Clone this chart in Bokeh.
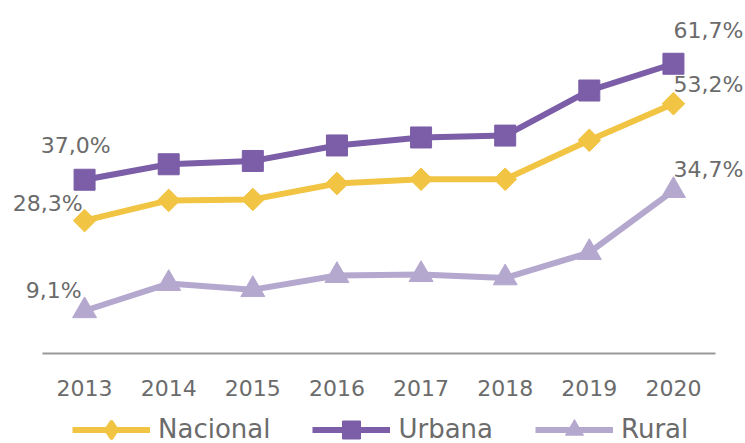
import math
from bokeh.plotting import figure
from bokeh.models import (ColumnDataSource, Legend, LegendItem, Range1d,
                          LinearAxis, FixedTicker)
from bokeh.core.properties import value
from bokeh.embed import file_html
from bokeh.resources import INLINE

# ---- data ----
years = ["2013", "2014", "2015", "2016", "2017", "2018", "2019", "2020"]
nacional = [28.3, 32.6, 32.8, 36.2, 37.1, 37.1, 45.4, 53.2]
urbana = [37.0, 40.3, 41.0, 44.3, 46.0, 46.4, 56.0, 61.7]
rural = [9.1, 14.9, 13.6, 16.6, 16.8, 16.1, 21.5, 34.7]
series_names = ["Nacional", "Urbana", "Rural"]

# ---- layout / styles ----
W = 745
FH = 460                    # frame height (bottom rows fall below the window)
BASE = 353                  # pixel row of the baseline
AXIS_LEFT, AXIS_RIGHT = 42, 715
unit = (AXIS_RIGHT - AXIS_LEFT) / len(years)
first_center = AXIS_LEFT + unit / 2
px_per_pct = 4.696
LEGEND_ROW = 429

FONT = "DejaVu Sans"
TXT = "#6b6b6b"
C_NAC = "#F2C443"
C_URB = "#7B5EA7"
C_RUR = "#B5A8CF"

idx = list(range(len(years)))

p = figure(frame_width=W, frame_height=FH,
           x_range=Range1d(-first_center / unit, (W - first_center) / unit),
           y_range=Range1d(-(FH - BASE) / px_per_pct, BASE / px_per_pct),
           output_backend="svg", toolbar_location=None,
           x_axis_type=None, y_axis_type=None,
           min_border_left=0, min_border_right=0, min_border_top=0, min_border_bottom=0)
p.outline_line_color = None
p.background_fill_color = "white"
p.border_fill_color = "white"
p.xgrid.visible = False
p.ygrid.visible = False

ax = LinearAxis(ticker=FixedTicker(ticks=idx),
                major_label_overrides={i: y for i, y in zip(idx, years)},
                bounds=(-0.5, len(years) - 0.5), fixed_location=0)
ax.axis_line_color = "#9a9a9a"
ax.axis_line_width = 2
ax.major_tick_line_color = None
ax.minor_tick_line_color = None
ax.major_label_text_font = FONT
ax.major_label_text_font_size = "22px"
ax.major_label_text_color = TXT
ax.major_label_standoff = 20
p.add_layout(ax, "below")

src = ColumnDataSource(dict(x=idx, nac=nacional, urb=urbana, rur=rural))

l_nac = p.line("x", "nac", source=src, line_color=C_NAC, line_width=6)
# diamond key (used by the legend; sits under the rotated squares)
k_nac = p.scatter("x", "nac", source=src, marker="diamond", size=18,
                  fill_color=C_NAC, line_color=C_NAC, line_width=3)
m_nac = p.scatter("x", "nac", source=src, marker="square", size=16, angle=math.pi / 4,
                  fill_color=C_NAC, line_color=C_NAC)
l_urb = p.line("x", "urb", source=src, line_color=C_URB, line_width=6)
m_urb = p.scatter("x", "urb", source=src, marker="square", size=21,
                  fill_color=C_URB, line_color=C_URB)
l_rur = p.line("x", "rur", source=src, line_color=C_RUR, line_width=6)
m_rur = p.scatter("x", "rur", source=src, marker="triangle", size=24,
                  fill_color=C_RUR, line_color=C_RUR)

def fmt(v):
    return f"{v:.1f}".replace(".", ",") + "%"

first = ColumnDataSource(dict(
    x=[idx[0]] * 3,
    y=[urbana[0], nacional[0], rural[0]],
    t=[fmt(urbana[0]), fmt(nacional[0]), fmt(rural[0])],
    xo=[26, -2, -3], yo=[-34, -17, -20]))
last = ColumnDataSource(dict(
    x=[idx[-1]] * 3,
    y=[urbana[-1], nacional[-1], rural[-1]],
    t=[fmt(urbana[-1]), fmt(nacional[-1]), fmt(rural[-1])],
    xo=[0, 0, 0], yo=[-33, -19, -21]))

p.text("x", "y", text="t", source=first, x_offset="xo", y_offset="yo",
       text_align="right", text_baseline="middle", text_font=value(FONT),
       text_font_size="22px", text_color=TXT)
p.text("x", "y", text="t", source=last, x_offset="xo", y_offset="yo",
       text_align="left", text_baseline="middle", text_font=value(FONT),
       text_font_size="22px", text_color=TXT)

legend = Legend(items=[
    LegendItem(label=series_names[0], renderers=[l_nac, k_nac]),
    LegendItem(label=series_names[1], renderers=[l_urb, m_urb]),
    LegendItem(label=series_names[2], renderers=[l_rur, m_rur]),
], orientation="horizontal", location=(72, FH - LEGEND_ROW - 22.5), padding=0, margin=0,
    spacing=42, glyph_width=78, glyph_height=45, label_standoff=8,
    label_text_font=FONT, label_text_font_size="26px", label_text_color=TXT,
    border_line_color=None, background_fill_alpha=0)
p.add_layout(legend, "center")

open("out.html", "w").write(file_html(p, INLINE))
